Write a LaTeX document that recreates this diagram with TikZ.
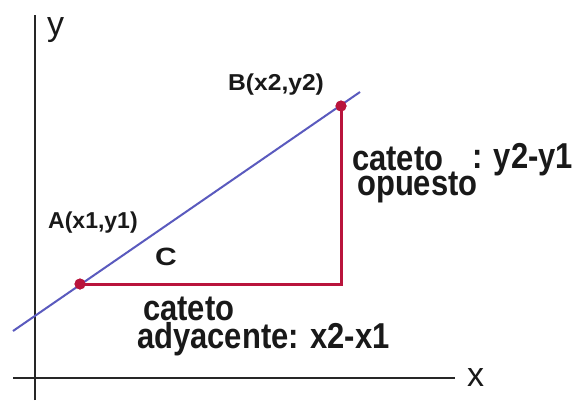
\documentclass[tikz,border=0pt]{standalone}
\usepackage{fontspec}
\setmainfont{Liberation Sans}
\newcommand\hwid[2]{\scalebox{#1}[1]{#2}}
\definecolor{legred}{RGB}{185,20,60}
\definecolor{lineblue}{RGB}{90,90,190}
\begin{document}
\begin{tikzpicture}[x=1bp,y=-1bp,
  lbl/.style={inner sep=0pt,anchor=base west,text=black!90},
  big/.style={font=\bfseries\fontsize{36bp}{25bp}\selectfont},
  block/.style={big,align=left},
  small/.style={font=\bfseries\fontsize{23bp}{25bp}\selectfont},
  axisline/.style={line width=2.5bp,draw=black!85},
  bluel/.style={line width=2bp,draw=lineblue},
  redl/.style={line width=3bp,draw=legred},
  dot/.style={circle,fill=legred,inner sep=0pt,minimum size=11bp}]
\path[fill=white] (0,0) rectangle (578,404);
\coordinate (ytop) at (35,15);
\coordinate (ybot) at (35,400);
\coordinate (xl) at (13,378);
\coordinate (xr) at (455,378);
\draw[axisline] (ybot) -- (ytop);
\draw[axisline] (xl) -- (xr);
\coordinate (L0) at (13,331);
\coordinate (L1) at (360,92);
\draw[bluel] (L0) -- (L1);
\coordinate (R) at (341,284);
\node[dot] (A) at (80,284) {};
\node[dot] (B) at (341,106) {};
\draw[redl] (A.center) -- (R) -- (B.center);
\node[dot] at (A) {};
\node[dot] at (B) {};
\node[lbl,font=\fontsize{34bp}{36bp}\selectfont] (ylab) at (47,35) {y};
\node[lbl,font=\fontsize{34bp}{36bp}\selectfont] (xlab) at (467,386) {x};
\node[lbl,small] (Blab) at (228,90) {\hwid{1.07}{B(x2,y2)}};
\node[lbl,small] (Alab) at (48,228) {A(x1,y1)};
\node[lbl,font=\bfseries\fontsize{25bp}{27bp}\selectfont] (Clab) at (155,265) {\hwid{1.2}{C}};
\node[lbl,block] (adyblock) at (137,348) {\hspace*{6bp}\hwid{0.86}{cateto}\\ \hwid{0.86}{adyacente: x2-x1}};
\node[lbl,block] (opblock) at (352,195) {\hwid{0.86}{cateto}\\ \hspace*{5bp}\hwid{0.86}{opuesto}};
\node[lbl,big] (dif) at (472,168) {\hwid{0.86}{: y2-y1}};
\end{tikzpicture}
\end{document}
